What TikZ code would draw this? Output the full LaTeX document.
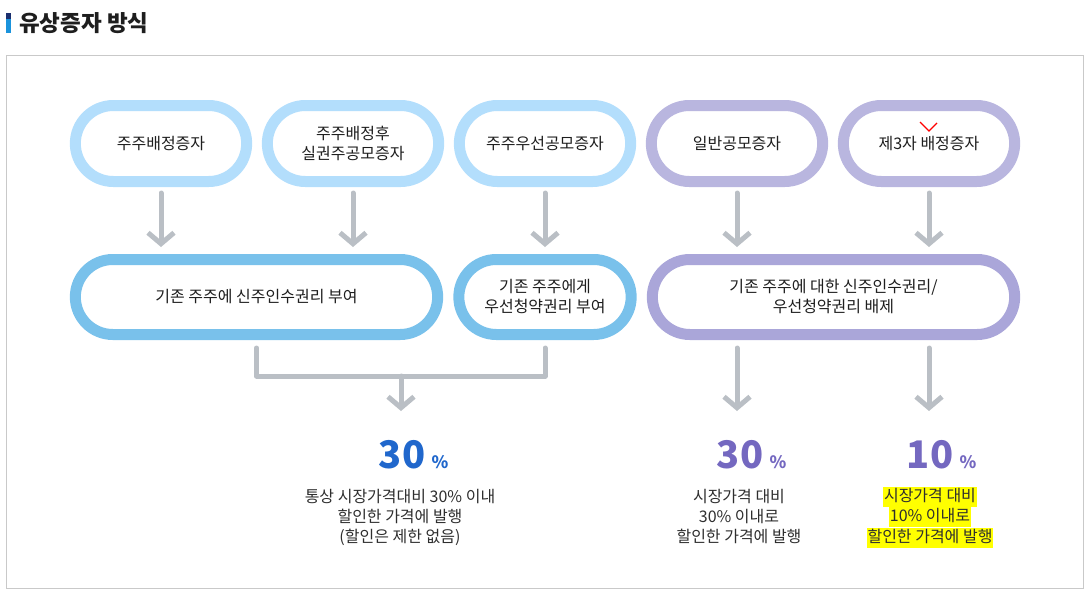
\documentclass[tikz,border=0pt]{standalone}
\usepackage{fontspec}
\setmainfont{Noto Sans CJK KR}
\usepackage{xcolor}
\usepackage{tikz}
\usetikzlibrary{positioning,shapes.misc,arrows.meta}

\definecolor{navybar}{HTML}{1B2F6E}
\definecolor{titleblue}{HTML}{1A93DC}
\definecolor{framegray}{HTML}{C9C9C9}
\definecolor{lightblue}{HTML}{B3DEFC}
\definecolor{midblue}{HTML}{79C1EB}
\definecolor{lightpurple}{HTML}{B9B6DF}
\definecolor{midpurple}{HTML}{AAA6D9}
\definecolor{arrgray}{HTML}{BABFC5}
\definecolor{numblue}{HTML}{2067CC}
\definecolor{numpurple}{HTML}{7468C0}
\definecolor{textdark}{HTML}{1E1E1E}
\definecolor{descgray}{HTML}{2E2E2E}
\definecolor{marker}{HTML}{FFFF00}

\begin{document}
\begin{tikzpicture}[x=1pt,y=-1pt,
  pill/.style={rounded rectangle, draw=#1, line width=11pt, fill=white,
    minimum height=76pt, align=center, text=textdark,
    font=\fontsize{16}{20}\selectfont},
  arr/.style={draw=arrgray, line width=5pt, line cap=round,
    -{Straight Barb[length=11pt,width=26pt]}},
  bar/.style={draw=arrgray, line width=5pt, line cap=round, line join=round},
  bignum/.style={text=#1, font=\fontsize{38}{38}\selectfont\bfseries,
    inner sep=0pt, anchor=base},
  pct/.style={text=#1, font=\fontsize{17}{17}\selectfont\bfseries, inner sep=0pt},
  desc/.style={align=center, text=descgray, font=\fontsize{16}{20}\selectfont},
  hl/.style={desc, fill=marker, inner xsep=1pt, inner ysep=2pt,
    text height=12.5pt, text depth=3.5pt}]
\useasboundingbox (0,0) rectangle (1088,595);

% title
\fill[navybar] (6,13) rectangle (11,19);
\fill[titleblue] (6,19) rectangle (11,33);
\node[anchor=west, inner sep=0pt, text=textdark,
  font=\fontsize{22.5}{26}\selectfont\bfseries] (title) at (19,23) {유상증자 방식};
\draw[framegray, line width=1pt] (6.5,55.5) rectangle (1083.5,588.5);

% top row
\node[pill=lightblue, minimum width=178pt] (t1) at (161,143.5) {주주배정증자};
\node[pill=lightblue, minimum width=178pt] (t2) at (353,143.5) {주주배정후\\실권주공모증자};
\node[pill=lightblue, minimum width=178pt] (t3) at (545,143.5) {주주우선공모증자};
\node[pill=lightpurple, minimum width=178pt] (t4) at (737,143.5) {일반공모증자};
\node[pill=lightpurple, minimum width=178pt] (t5) at (929,143.5) {제3자 배정증자};
\draw[red, line width=1.3pt] (920,122) -- (929,131) -- (937,123);

% second row
\node[pill=midblue, minimum width=369pt, minimum height=75pt] (m1) at (256.5,297) {기존 주주에 신주인수권리 부여};
\node[pill=midblue, minimum width=179pt, minimum height=75pt] (m2) at (545,297) {기존 주주에게\\우선청약권리 부여};
\node[pill=midpurple, minimum width=369pt, minimum height=75pt] (m3) at (833.5,297) {기존 주주에 대한 신주인수권리/\\우선청약권리 배제};

\foreach \a/\b in {t1/m1,t2/m1,t3/m2,t4/m3,t5/m3}
  \draw[arr] ([yshift=-6pt]\a.south) -- ([yshift=7pt]\a.south |- \b.north);

% percentages
\node[bignum=numblue] (n1) at (402,468) {30};
\node[pct=numblue, right=6pt of n1.base east, anchor=base west] (p1) {\%};
\node[bignum=numpurple] (n2) at (740,468) {30};
\node[pct=numpurple, right=6pt of n2.base east, anchor=base west] (p2) {\%};
\node[bignum=numpurple] (n3) at (930,468) {10};
\node[pct=numpurple, right=6pt of n3.base east, anchor=base west] (p3) {\%};

% joining bracket
\draw[bar] ([yshift=-8pt]m1.south) -- ++(0,28) coordinate (jl) -| ([yshift=-8pt]m2.south);
\coordinate (join) at (401,376);
\draw[arr] (join) -- ([yshift=57pt]join |- n1.base);
\draw[arr] ([yshift=-8pt]t4.south |- m3.south) -- ([yshift=57pt]t4.south |- n2.base);
\draw[arr] ([yshift=-8pt]t5.south |- m3.south) -- ([yshift=57pt]t5.south |- n3.base);

% descriptions
\node[desc] (d1) at (400,517) {통상 시장가격대비 30\% 이내\\할인한 가격에 발행\\(할인은 제한 없음)};
\node[desc] (d2) at (739,517) {시장가격 대비\\30\% 이내로\\할인한 가격에 발행};
\node[hl] (d3a) at (930,497) {시장가격 대비};
\node[hl, below=0pt of d3a] (d3b) {10\% 이내로};
\node[hl, below=0pt of d3b] (d3c) {할인한 가격에 발행};
\end{tikzpicture}
\end{document}
